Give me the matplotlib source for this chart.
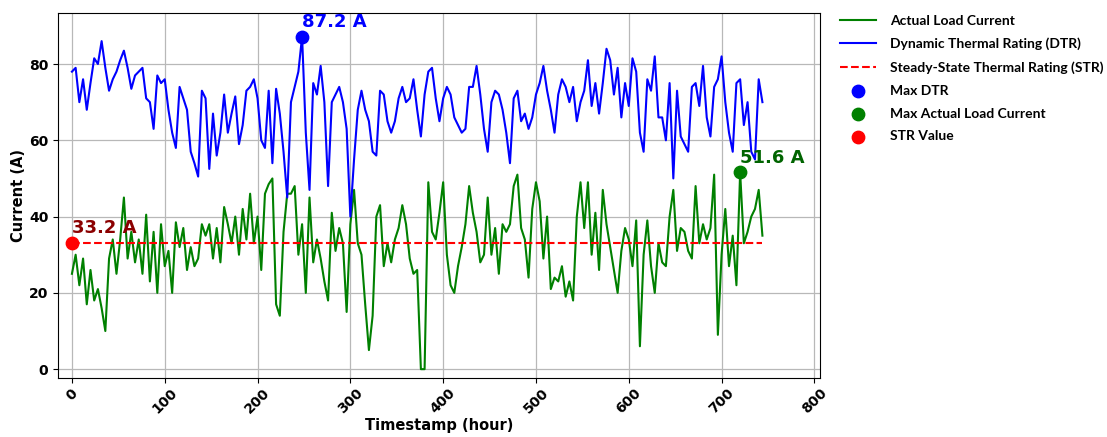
import matplotlib
matplotlib.use("Agg")
import matplotlib.pyplot as plt

# hourly samples (every 4 h) over one month
hours = list(range(0, 745, 4))

dtr = [78, 79, 70, 76, 68, 75, 81.5, 80, 86, 79, 73, 76, 78, 81, 83.5, 79,
       73.5, 77, 78, 79, 71, 70, 63, 77, 75, 76, 68, 62, 58, 74, 71, 68,
       57, 54, 50.5, 73, 71, 52.5, 67, 56, 62, 72, 62, 67, 71.5, 59, 64, 73,
       74, 76, 71, 60, 58, 73, 54, 73.5, 67, 57, 45, 70, 74, 78, 87.2, 62,
       47, 75, 72, 79.5, 70, 48, 70, 72, 74, 70, 63, 40, 55, 68, 73, 68,
       65, 57, 56, 73, 72, 65, 62, 65, 71, 74, 70, 71, 76, 68, 61, 72,
       78, 79, 71, 65, 71, 74, 72, 66, 64, 62, 63, 74, 74, 79.5, 72, 63,
       57, 70, 73, 72, 68, 62, 54, 71, 73, 65, 67, 63, 66, 72, 75, 79.5,
       73, 68, 62, 72, 76, 74, 70, 74, 65, 70, 73, 81, 69, 75, 67, 75,
       84, 81, 72, 79, 66, 75, 69, 81.5, 78, 62, 57, 76, 73, 82, 66, 66,
       60, 75, 50, 73, 61, 59, 57, 74, 75, 69, 79.5, 66, 61, 74, 76, 82,
       70, 62, 57, 75, 76, 64, 70, 57, 55, 76, 70]

load = [25, 30, 22, 29, 17, 26, 18, 21, 16, 10, 29, 34, 25, 34, 45, 29,
        36, 28, 34, 25, 40.5, 23, 36, 20, 38, 27, 31, 20, 38.5, 32, 37, 26,
        32, 27, 29, 38, 35, 38, 29, 37, 28, 42.5, 38, 33, 40, 30, 42, 34,
        46, 33, 40, 26, 46, 48.5, 50, 17, 14, 36, 46, 46, 48, 30, 38, 20,
        45, 28, 34, 29, 23, 18, 41, 31, 37, 33, 15, 38, 47, 33, 30, 17,
        5, 14, 40, 43, 27, 33, 28, 34, 37, 43, 38, 29, 25, 26, 0, 0,
        49, 36, 34, 41, 49, 30, 22, 20, 27, 32, 38, 48, 41, 36, 28, 30,
        45, 30, 37, 25, 38, 36, 38, 48, 51, 37, 34, 24, 42, 49, 44, 29,
        40, 21, 24, 23, 27, 19, 23, 18, 40, 49, 37, 49, 30, 41, 26, 47,
        38, 32, 26, 20, 31, 37, 34, 27, 39, 6, 30, 39, 27, 20, 33, 28,
        27, 40, 47, 31, 37, 36, 31, 29, 48, 33, 38, 34, 37, 51, 9, 30,
        42, 27, 35, 22, 51.6, 33, 36, 40, 42, 47, 35]

str_value = 33.2

i_dtr = dtr.index(max(dtr))
i_load = load.index(max(load))

fig = plt.figure(figsize=(11.07, 4.37), dpi=100)
ax = fig.add_axes([0.0524, 0.1343, 0.6883, 0.8353])

ax.plot(hours, load, color="green", lw=1.5, label="Actual Load Current")
ax.plot(hours, dtr, color="blue", lw=1.5, label="Dynamic Thermal Rating (DTR)")
ax.plot([hours[0], hours[-1]], [str_value, str_value], "r--", lw=1.5,
        label="Steady-State Thermal Rating (STR)")

ax.scatter(hours[i_dtr], dtr[i_dtr], color="blue", s=80, zorder=5, label="Max DTR")
ax.scatter(hours[i_load], load[i_load], color="green", s=80, zorder=5,
           label="Max Actual Load Current")
ax.scatter(hours[0], str_value, color="red", s=80, zorder=5, label="STR Value")

ax.annotate(f"{dtr[i_dtr]:.1f} A", (hours[i_dtr], dtr[i_dtr]), xytext=(0, 4),
            textcoords="offset points", color="blue", fontsize=13,
            fontweight="bold", ha="left", va="bottom")
ax.annotate(f"{load[i_load]:.1f} A", (hours[i_load], load[i_load]), xytext=(0, 4),
            textcoords="offset points", color="darkgreen", fontsize=13,
            fontweight="bold", ha="left", va="bottom")
ax.annotate(f"{str_value:.1f} A", (hours[0], str_value), xytext=(0, 4),
            textcoords="offset points", color="darkred", fontsize=13,
            fontweight="bold", ha="left", va="bottom")

ax.set_xlim(-15, 806)
ax.set_ylim(-2.4, 93.3)
ax.set_xticks(range(0, 801, 100))
ax.set_yticks(range(0, 81, 20))
for lbl in ax.get_xticklabels():
    lbl.set_rotation(45)
    lbl.set_fontweight("bold")
for lbl in ax.get_yticklabels():
    lbl.set_fontweight("bold")
ax.tick_params(labelsize=10)
ax.tick_params(axis="x", pad=2)
ax.set_xlabel("Timestamp (hour)", fontsize=10.5, fontweight="bold", labelpad=1)
ax.set_ylabel("Current (A)", fontsize=10.5, fontweight="bold", labelpad=2)
ax.grid(True, color="#b8b8b8", lw=0.9)
ax.set_axisbelow(True)

ax.legend(loc="upper left", bbox_to_anchor=(1.01, 1.03), frameon=False,
          prop={"family": "Lato", "weight": "bold", "size": 10},
          handlelength=2.6, labelspacing=0.78, handletextpad=1.0)

fig.savefig("out.png", dpi=100)
